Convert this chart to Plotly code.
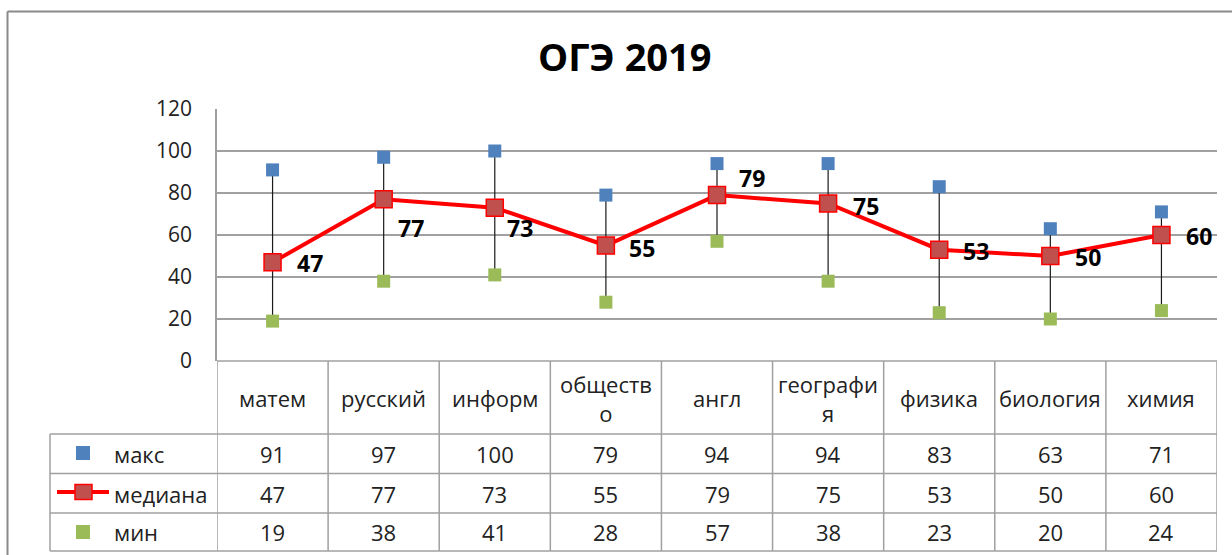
import plotly.graph_objects as go

# ---- data ----
categories = ["матем", "русский", "информ", "общество", "англ", "география", "физика", "биология", "химия"]
header_labels = ["матем", "русский", "информ", "обществ<br>о", "англ", "географи<br>я", "физика", "биология", "химия"]
max_vals = [91, 97, 100, 79, 94, 94, 83, 63, 71]
median_vals = [47, 77, 73, 55, 79, 75, 53, 50, 60]
min_vals = [19, 38, 41, 28, 57, 38, 23, 20, 24]
series_names = ["макс", "медиана", "мин"]
y_ticks = [0, 20, 40, 60, 80, 100, 120]
title_text = "ОГЭ 2019"

# ---- style ----
FONT = "Open Sans"
W, H = 1232, 555
PL, PR, PT, PB = 217, 1217, 109, 361
GRID = "#A0A0A0"
TXT = "#222222"
BLUE, RED_FILL, RED, GREEN = "#4F81BD", "#C0504D", "#FF0000", "#9BBB59"
TABLE_FONT = 22
# label offsets (pixels) relative to the median marker
label_dx = [37, 27, 25, 36, 35, 38, 37, 38, 38]
label_dy = [-1, -29, -20, -2, 17, -2, -1, -1, -1]


def px(x):
    return (x - PL) / (PR - PL)


def py(y):
    return (PB - y) / (PB - PT)


fig = go.Figure()

# high-low lines
hx, hy = [], []
for c, lo, hi in zip(categories, min_vals, max_vals):
    hx += [c, c, None]
    hy += [lo, hi, None]
fig.add_trace(go.Scatter(x=hx, y=hy, mode="lines", line=dict(color="#1a1a1a", width=1.2),
                         hoverinfo="skip", showlegend=False))

fig.add_trace(go.Scatter(x=categories, y=max_vals, mode="markers", name=series_names[0],
                         marker=dict(symbol="square", size=13, color=BLUE, line=dict(width=0))))
fig.add_trace(go.Scatter(x=categories, y=min_vals, mode="markers", name=series_names[2],
                         marker=dict(symbol="square", size=13, color=GREEN, line=dict(width=0))))
fig.add_trace(go.Scatter(x=categories, y=median_vals, mode="lines+markers", name=series_names[1],
                         line=dict(color=RED, width=4),
                         marker=dict(symbol="square", size=17, color=RED_FILL, line=dict(color=RED, width=1.5))))

annotations = []
shapes = []

# title
annotations.append(dict(text="<b>" + title_text + "</b>", xref="paper", yref="paper",
                        x=px(625), y=py(56), xanchor="center", yanchor="middle", showarrow=False,
                        font=dict(family=FONT, size=38, color="#000000")))

# data labels
for c, v, dx, dy in zip(categories, median_vals, label_dx, label_dy):
    annotations.append(dict(text="<b>%d</b>" % v, xref="x", yref="y", x=c, y=v, xshift=dx, yshift=dy,
                            xanchor="center", yanchor="middle", showarrow=False,
                            font=dict(family=FONT, size=23, color="#000000")))

# table header labels and values
row_y = [454, 493.5, 532]
for i, c in enumerate(categories):
    annotations.append(dict(text=header_labels[i], xref="x", yref="paper", x=c, y=py(398),
                            xanchor="center", yanchor="middle", showarrow=False,
                            font=dict(family=FONT, size=TABLE_FONT, color=TXT)))
    for vals, ry in zip([max_vals, median_vals, min_vals], row_y):
        annotations.append(dict(text=str(vals[i]), xref="x", yref="paper", x=c, y=py(ry),
                                xanchor="center", yanchor="middle", showarrow=False,
                                font=dict(family=FONT, size=TABLE_FONT, color=TXT)))

# legend text in table
for name, ry in zip(series_names, row_y):
    annotations.append(dict(text=name, xref="paper", yref="paper", x=px(112), y=py(ry),
                            xanchor="left", yanchor="middle", showarrow=False,
                            font=dict(family=FONT, size=TABLE_FONT, color=TXT)))

# legend keys
shapes.append(dict(type="rect", xref="paper", yref="paper", x0=px(76), x1=px(90), y0=py(460), y1=py(446),
                   fillcolor=BLUE, line=dict(width=0)))
shapes.append(dict(type="line", xref="paper", yref="paper", x0=px(57), x1=px(109), y0=py(492), y1=py(492),
                   line=dict(color=RED, width=4)))
shapes.append(dict(type="rect", xref="paper", yref="paper", x0=px(75), x1=px(92), y0=py(499.5), y1=py(484.5),
                   fillcolor=RED_FILL, line=dict(color=RED, width=1.5)))
shapes.append(dict(type="rect", xref="paper", yref="paper", x0=px(76), x1=px(90), y0=py(539), y1=py(525),
                   fillcolor=GREEN, line=dict(width=0)))

# table grid
n = len(categories)
for k in range(n + 1):
    shapes.append(dict(type="line", xref="x", yref="paper", x0=k - 0.5, x1=k - 0.5, y0=py(361), y1=py(551),
                       line=dict(color=GRID, width=1.5), layer="below"))
shapes.append(dict(type="line", xref="paper", yref="paper", x0=0, x1=1, y0=py(361), y1=py(361),
                   line=dict(color=GRID, width=1.5)))
for yy in [434, 473.5, 513, 551]:
    shapes.append(dict(type="line", xref="paper", yref="paper", x0=px(50), x1=1, y0=py(yy), y1=py(yy),
                       line=dict(color=GRID, width=1.5)))
shapes.append(dict(type="line", xref="paper", yref="paper", x0=px(50), x1=px(50), y0=py(434), y1=py(551),
                   line=dict(color=GRID, width=1.5)))

# outer chart border
shapes.append(dict(type="line", xref="paper", yref="paper", x0=px(7.5), x1=px(1240), y0=py(11.5), y1=py(11.5),
                   line=dict(color="#8A8A8A", width=2)))
shapes.append(dict(type="line", xref="paper", yref="paper", x0=px(7.5), x1=px(7.5), y0=py(11.5), y1=py(560),
                   line=dict(color="#8A8A8A", width=2)))

fig.update_layout(
    width=W, height=H, autosize=False,
    margin=dict(l=PL, r=W - PR, t=PT, b=H - PB, pad=0),
    plot_bgcolor="white", paper_bgcolor="white",
    showlegend=False,
    font=dict(family=FONT, size=20, color=TXT),
    xaxis=dict(type="category", categoryorder="array", categoryarray=categories,
               range=[-0.5, n - 0.5], showticklabels=False, showgrid=False, zeroline=False,
               showline=False, ticks=""),
    yaxis=dict(range=[0, 120], tickvals=y_ticks, showgrid=True, gridcolor=GRID, gridwidth=1.5,
               zeroline=False, showline=True, linecolor=GRID, linewidth=1.5, ticks="",
               ticklabelstandoff=19, tickfont=dict(family=FONT, size=21, color=TXT)),
    annotations=annotations,
    shapes=shapes,
)

fig.write_html("out.html", config={"displayModeBar": False},
               post_script="document.body.style.margin='0';document.body.style.overflow='hidden';")
